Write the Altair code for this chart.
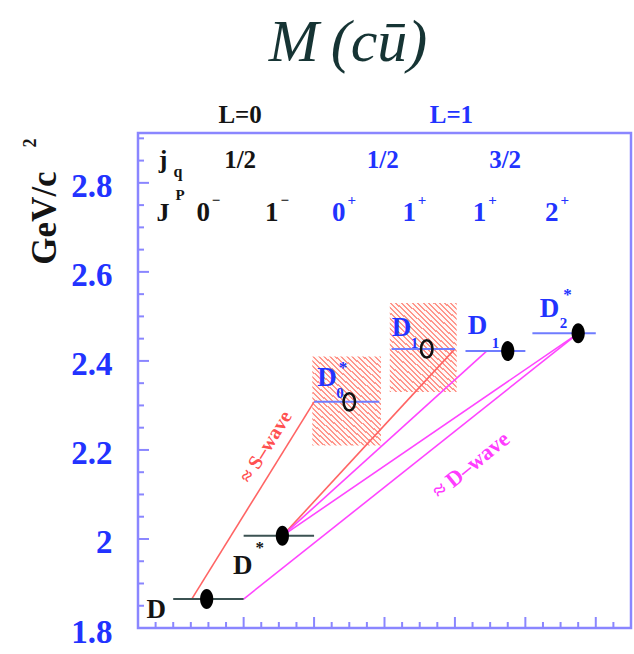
import altair as alt
import pandas as pd

# ---- c-ubar (D meson) level scheme, masses in GeV/c^2 ----
state_sub = ["", "", "0", "1", "1", "2"]
state_sup = ["", "*", "*", "", "", "*"]
mass = [1.865, 2.007, 2.308, 2.427, 2.422, 2.462]
level_x0 = [2.0, 6.0, 10.0, 14.4, 18.6, 22.4]
level_x1 = [6.0, 10.0, 13.7, 18.0, 22.0, 26.0]
marker_x = [3.9, 8.2, 12.0, 16.4, 21.0, 25.0]
observed = ["narrow", "narrow", "broad", "broad", "narrow", "narrow"]
orbital = ["L=0", "L=0", "L=1", "L=1", "L=1", "L=1"]

# mass bands of the two broad states
band_x0 = [9.9, 14.3]
band_x1 = [13.8, 18.1]
band_lo = [2.21, 2.33]
band_hi = [2.41, 2.53]

# single-pion transitions (S-wave / D-wave)
trans_wave = ["S", "S", "D", "D", "D"]
trans_x0 = [3.05, 8.2, 8.2, 8.2, 6.0]
trans_m0 = [1.865, 2.007, 2.007, 2.007, 1.865]
trans_x1 = [10.0, 18.0, 19.8, 25.0, 25.0]
trans_m1 = [2.308, 2.427, 2.422, 2.462, 2.462]

# quantum-number header rows
jp_x = [3.7, 7.6, 11.4, 15.4, 19.4, 23.5]
jp_spin = ["0", "1", "0", "1", "1", "2"]
jp_parity = ["\u2212", "\u2212", "+", "+", "+", "+"]
jp_group = ["L=0", "L=0", "L=1", "L=1", "L=1", "L=1"]
jq_x = [5.8, 13.9, 20.85]
jq_text = ["1/2", "1/2", "3/2"]
jq_group = ["L=0", "L=1", "L=1"]
L_x = [5.8, 17.8]
L_text = ["L=0", "L=1"]

# axis ticks
y_major = [1.8, 2.0, 2.2, 2.4, 2.6, 2.8]
y_minor = [round(1.8 + 0.05 * k, 2) for k in range(1, 23) if k % 4 != 0]
x_major = [6, 10, 14, 18, 22, 26]
x_minor = [k for k in range(1, 28) if k not in x_major]

BLACK = "#141414"
BLUE = "#2233ff"
FRAME = "#8a86ff"
SERIF = "Liberation Serif, Times New Roman, serif"
W, H = 493, 495

text_color = {"L=0": BLACK, "L=1": BLUE}
level_color = {"L=0": "#3b5252", "L=1": "#6f7cff"}
wave_color = {"S": "#ff6464", "D": "#ff45ff"}

states = pd.DataFrame({
    "sub": state_sub, "sup": state_sup, "mass": mass,
    "x0": level_x0, "x1": level_x1, "mx": marker_x,
    "observed": observed, "L": orbital,
})
states["col"] = states["L"].map(level_color)
bands = pd.DataFrame({"x0": band_x0, "x1": band_x1, "lo": band_lo, "hi": band_hi})
trans = pd.DataFrame({"wave": trans_wave, "x0": trans_x0, "m0": trans_m0,
                      "x1": trans_x1, "m1": trans_m1})
trans["col"] = trans["wave"].map(wave_color)

xs = alt.Scale(domain=[0, 28], nice=False, zero=False)
ys = alt.Scale(domain=[1.8, 2.912], nice=False, zero=False)
y_axis = alt.Axis(
    values=y_major, ticks=False, tickSize=0, domain=False, grid=False, title=None,
    labelExpr="datum.value == 2 ? '2' : format(datum.value, '.1f')",
    labelFont=SERIF, labelFontSize=33, labelFontWeight="bold", labelColor=BLUE,
    labelPadding=26, labelOffset=4, labelOverlap=False, labelBound=False,
)


def X(field):
    return alt.X(field, type="quantitative", scale=xs, axis=None)


def Y(field):
    return alt.Y(field, type="quantitative", scale=ys, axis=y_axis)


def C(field):
    return alt.Color(field, type="nominal", scale=None)


# diagonal hatching for the broad-state bands
n_stripes = 36
stops = []
for k in range(n_stripes):
    a, b, c = k / n_stripes, (k + 0.38) / n_stripes, (k + 1) / n_stripes
    stops += [
        alt.GradientStop(offset=a, color="#ff8478"),
        alt.GradientStop(offset=b, color="#ff8478"),
        alt.GradientStop(offset=b, color="#fff8f6"),
        alt.GradientStop(offset=c, color="#fff8f6"),
    ]
hatch = alt.LinearGradient(gradient="linear", stops=stops, x1=0, y1=1, x2=1, y2=-0.39)

band_layer = alt.Chart(bands).mark_rect(fill=hatch, opacity=0.85).encode(
    x=X("x0"), x2="x1", y=Y("lo"), y2="hi"
)

trans_layer = alt.Chart(trans).mark_rule(strokeWidth=1.6).encode(
    x=X("x0"), y=Y("m0"), x2="x1", y2="m1", color=C("col"),
)

level_layer = alt.Chart(states).mark_rule(strokeWidth=2).encode(
    x=X("x0"), x2="x1", y=Y("mass"), color=C("col"),
)

ellipse = "M0,-1 A0.66,1 0 1,1 0,1 A0.66,1 0 1,1 0,-1 Z"
dot_layer = alt.Chart(states).transform_filter("datum.observed == 'narrow'").mark_point(
    shape=ellipse, filled=True, size=400, color="black", opacity=1
).encode(x=X("mx"), y=Y("mass"))
ring_layer = alt.Chart(states).transform_filter("datum.observed == 'broad'").mark_point(
    shape=ellipse, filled=False, size=300, color="#111", strokeWidth=2.6, opacity=1
).encode(x=X("mx"), y=Y("mass"))

# state names with sub/superscripts, placed relative to each level's left end
label_offsets = [
    {"base": (-17, 11)},
    {"base": (-1, 30), "sup": (16, 12)},
    {"base": (13, -24), "sub": (26, -9), "sup": (29, -34)},
    {"base": (10, -21), "sub": (23, -6)},
    {"base": (12, -25), "sub": (30, -8)},
    {"base": (17, -24), "sub": (31, -10), "sup": (35, -38)},
]
label_layers = []
for i, offs in enumerate(label_offsets):
    row = states.iloc[[i]]
    col = text_color[orbital[i]]
    for part, (dx, dy) in offs.items():
        if part == "base":
            txt, size = "D", 27
        elif part == "sub":
            txt, size = state_sub[i], 15
        else:
            txt, size = state_sup[i], 17
        label_layers.append(
            alt.Chart(row).mark_text(
                text=txt, dx=dx, dy=dy, font=SERIF, fontSize=size, fontWeight="bold",
                color=col, align="center", baseline="middle",
            ).encode(x=X("x0"), y=Y("mass"))
        )

# wave annotations along the transition lines
waves = pd.DataFrame({"x": [7.27, 18.9], "y": [2.207, 2.166],
                      "t": ["\u2248 S\u2013wave", "\u2248 D\u2013wave"]})
s_text = alt.Chart(waves.iloc[[0]]).mark_text(
    font=SERIF, fontSize=20, fontWeight="bold", angle=302, color="#ff5050",
    align="center", baseline="middle",
).encode(x=X("x"), y=Y("y"), text="t:N")
d_text = alt.Chart(waves.iloc[[1]]).mark_text(
    font=SERIF, fontSize=22, fontWeight="bold", angle=321, color="#ff3cff",
    align="center", baseline="middle",
).encode(x=X("x"), y=Y("y"), text="t:N")

# inward ticks on the left and bottom frame
yt_major = alt.Chart(pd.DataFrame({"v": y_major})).mark_rule(color=FRAME, strokeWidth=2).encode(
    y=Y("v"), x=alt.value(0), x2=alt.value(11))
yt_minor = alt.Chart(pd.DataFrame({"v": y_minor})).mark_rule(color=FRAME, strokeWidth=2).encode(
    y=Y("v"), x=alt.value(0), x2=alt.value(6))
xt_major = alt.Chart(pd.DataFrame({"v": x_major})).mark_rule(color=FRAME, strokeWidth=2).encode(
    x=X("v"), y=alt.value(H), y2=alt.value(H - 11))
xt_minor = alt.Chart(pd.DataFrame({"v": x_minor})).mark_rule(color=FRAME, strokeWidth=2).encode(
    x=X("v"), y=alt.value(H), y2=alt.value(H - 6))

# header rows: L, j_q and J^P
L_df = pd.DataFrame({"x": L_x, "t": L_text})
L_df["col"] = L_df["t"].map(text_color)
jq_df = pd.DataFrame({"x": jq_x, "t": jq_text, "g": jq_group})
jq_df["col"] = jq_df["g"].map(text_color)
jp_df = pd.DataFrame({"x": jp_x, "s": jp_spin, "p": jp_parity, "g": jp_group})
jp_df["col"] = jp_df["g"].map(text_color)

hdr_L = alt.Chart(L_df).mark_text(
    font=SERIF, fontSize=25, fontWeight="bold", baseline="middle"
).encode(x=X("x"), y=alt.value(-18), text="t:N", color=C("col"))
hdr_jq = alt.Chart(jq_df).mark_text(
    font=SERIF, fontSize=25, fontWeight="bold", baseline="middle"
).encode(x=X("x"), y=alt.value(27), text="t:N", color=C("col"))
hdr_jp = alt.Chart(jp_df).mark_text(
    font=SERIF, fontSize=27, fontWeight="bold", baseline="middle"
).encode(x=X("x"), y=alt.value(80), text="s:N", color=C("col"))
hdr_par = alt.Chart(jp_df).mark_text(
    font=SERIF, fontSize=15, fontWeight="bold", baseline="middle", dx=13
).encode(x=X("x"), y=alt.value(67), text="p:N", color=C("col"))

one = pd.DataFrame({"k": [0]})


def free_text(txt, px, py, size, color=BLACK, weight="bold", style="normal", angle=0):
    return alt.Chart(one).mark_text(
        text=txt, font=SERIF, fontSize=size, fontWeight=weight, fontStyle=style,
        color=color, angle=angle, align="center", baseline="middle",
    ).encode(x=alt.value(px), y=alt.value(py))


row_names = [
    free_text("j", 25, 27, 26),
    free_text("q", 40, 39, 16),
    free_text("J", 25, 80, 26),
    free_text("P", 42, 62, 15),
    free_text("M\u2009(c\u016b)", 210, -90, 60, color="#163434", weight="normal", style="italic"),
    free_text("GeV/c", -93, 85, 35, angle=270),
    free_text("2", -107, 10, 18, angle=270),
]

chart = alt.layer(
    band_layer, trans_layer, level_layer, dot_layer, ring_layer,
    *label_layers, s_text, d_text,
    yt_major, yt_minor, xt_major, xt_minor,
    hdr_L, hdr_jq, hdr_jp, hdr_par, *row_names,
).properties(
    width=W, height=H,
    padding={"left": 138, "top": 133, "right": 3, "bottom": 26},
    autosize=alt.AutoSizeParams(type="none"),
    background="white",
).configure_view(stroke=FRAME, strokeWidth=2.5)

chart.save("out.html", embed_options={"renderer": "svg", "actions": False})
